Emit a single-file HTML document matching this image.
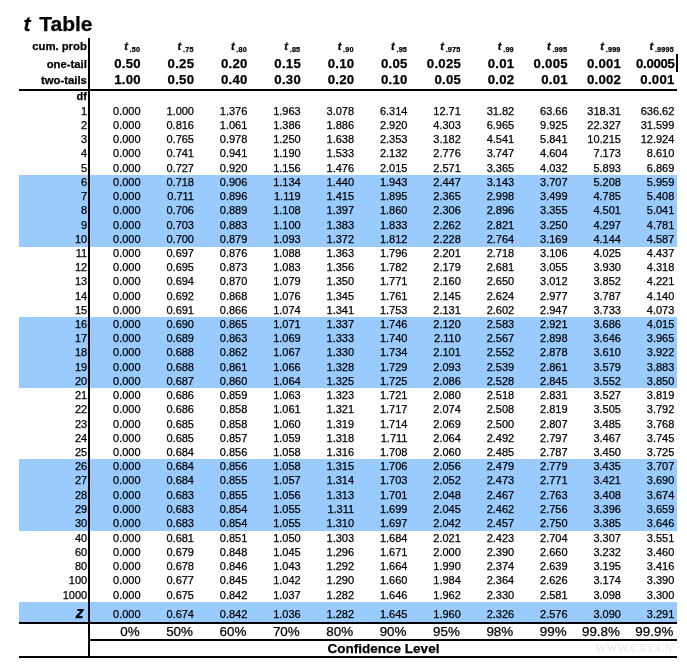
<!DOCTYPE html>
<html><head><meta charset="utf-8"><style>
html,body{margin:0;padding:0;background:#fff;width:687px;height:668px;overflow:hidden;position:relative}
.t{position:absolute;white-space:nowrap;font-family:"Liberation Sans",sans-serif;-webkit-text-stroke:0.25px #000}
.r{position:absolute}
body{will-change:transform}
.sub{font-size:7.2px;margin-left:1.8px;position:relative;top:2.2px;font-weight:bold;letter-spacing:0.2px}
</style></head><body>
<div class="r" style="left:19px;top:175px;width:658px;height:72px;background:#9ACBFE"></div>
<div class="r" style="left:19px;top:317px;width:658px;height:71px;background:#9ACBFE"></div>
<div class="r" style="left:19px;top:459px;width:658px;height:72px;background:#9ACBFE"></div>
<div class="r" style="left:19px;top:602px;width:658px;height:20px;background:#9ACBFE"></div>
<div class="r" style="left:88px;top:38px;width:2px;height:619.5px;background:#000"></div>
<div class="r" style="left:19px;top:89px;width:658px;height:2px;background:#000"></div>
<div class="r" style="left:19px;top:621.6px;width:658px;height:2.0px;background:#000"></div>
<div class="r" style="left:90px;top:639.4px;width:587px;height:2.0px;background:#000"></div>
<div class="r" style="left:19px;top:655.8px;width:658px;height:2.0px;background:#000"></div>
<div class="r" style="left:676px;top:54px;width:2px;height:17.5px;background:#000"></div>
<div class="t" style="left:23.60px;top:13.12px;font-size:21px;line-height:21px;font-weight:bold;font-style:normal;color:#000;"><i>t</i><span style="margin-left:8.6px">Table</span></div>
<div class="t" style="right:600.20px;top:40.63px;font-size:11.3px;line-height:11.3px;font-weight:bold;font-style:normal;color:#000;">cum. prob</div>
<div class="t" style="right:600.20px;top:58.63px;font-size:11.3px;line-height:11.3px;font-weight:bold;font-style:normal;color:#000;">one-tail</div>
<div class="t" style="right:600.20px;top:74.93px;font-size:11.3px;line-height:11.3px;font-weight:bold;font-style:normal;color:#000;">two-tails</div>
<div class="t" style="right:600.00px;top:91.29px;font-size:11px;line-height:11px;font-weight:bold;font-style:normal;color:#000;">df</div>
<div class="t" style="right:546.80px;top:40.89px;font-size:11px;line-height:11px;font-weight:bold;font-style:normal;color:#000;"><i>t</i><span class="sub">.50</span></div>
<div class="t" style="right:546.15px;top:56.83px;font-size:13.2px;line-height:13.2px;font-weight:bold;font-style:normal;color:#000;letter-spacing:0.25px;">0.50</div>
<div class="t" style="right:546.15px;top:73.13px;font-size:13.2px;line-height:13.2px;font-weight:bold;font-style:normal;color:#000;letter-spacing:0.25px;">1.00</div>
<div class="t" style="right:493.43px;top:40.89px;font-size:11px;line-height:11px;font-weight:bold;font-style:normal;color:#000;"><i>t</i><span class="sub">.75</span></div>
<div class="t" style="right:492.78px;top:56.83px;font-size:13.2px;line-height:13.2px;font-weight:bold;font-style:normal;color:#000;letter-spacing:0.25px;">0.25</div>
<div class="t" style="right:492.78px;top:73.13px;font-size:13.2px;line-height:13.2px;font-weight:bold;font-style:normal;color:#000;letter-spacing:0.25px;">0.50</div>
<div class="t" style="right:440.06px;top:40.89px;font-size:11px;line-height:11px;font-weight:bold;font-style:normal;color:#000;"><i>t</i><span class="sub">.80</span></div>
<div class="t" style="right:439.41px;top:56.83px;font-size:13.2px;line-height:13.2px;font-weight:bold;font-style:normal;color:#000;letter-spacing:0.25px;">0.20</div>
<div class="t" style="right:439.41px;top:73.13px;font-size:13.2px;line-height:13.2px;font-weight:bold;font-style:normal;color:#000;letter-spacing:0.25px;">0.40</div>
<div class="t" style="right:386.69px;top:40.89px;font-size:11px;line-height:11px;font-weight:bold;font-style:normal;color:#000;"><i>t</i><span class="sub">.85</span></div>
<div class="t" style="right:386.04px;top:56.83px;font-size:13.2px;line-height:13.2px;font-weight:bold;font-style:normal;color:#000;letter-spacing:0.25px;">0.15</div>
<div class="t" style="right:386.04px;top:73.13px;font-size:13.2px;line-height:13.2px;font-weight:bold;font-style:normal;color:#000;letter-spacing:0.25px;">0.30</div>
<div class="t" style="right:333.32px;top:40.89px;font-size:11px;line-height:11px;font-weight:bold;font-style:normal;color:#000;"><i>t</i><span class="sub">.90</span></div>
<div class="t" style="right:332.67px;top:56.83px;font-size:13.2px;line-height:13.2px;font-weight:bold;font-style:normal;color:#000;letter-spacing:0.25px;">0.10</div>
<div class="t" style="right:332.67px;top:73.13px;font-size:13.2px;line-height:13.2px;font-weight:bold;font-style:normal;color:#000;letter-spacing:0.25px;">0.20</div>
<div class="t" style="right:279.95px;top:40.89px;font-size:11px;line-height:11px;font-weight:bold;font-style:normal;color:#000;"><i>t</i><span class="sub">.95</span></div>
<div class="t" style="right:279.30px;top:56.83px;font-size:13.2px;line-height:13.2px;font-weight:bold;font-style:normal;color:#000;letter-spacing:0.25px;">0.05</div>
<div class="t" style="right:279.30px;top:73.13px;font-size:13.2px;line-height:13.2px;font-weight:bold;font-style:normal;color:#000;letter-spacing:0.25px;">0.10</div>
<div class="t" style="right:226.58px;top:40.89px;font-size:11px;line-height:11px;font-weight:bold;font-style:normal;color:#000;"><i>t</i><span class="sub">.975</span></div>
<div class="t" style="right:225.93px;top:56.83px;font-size:13.2px;line-height:13.2px;font-weight:bold;font-style:normal;color:#000;letter-spacing:0.25px;">0.025</div>
<div class="t" style="right:225.93px;top:73.13px;font-size:13.2px;line-height:13.2px;font-weight:bold;font-style:normal;color:#000;letter-spacing:0.25px;">0.05</div>
<div class="t" style="right:173.21px;top:40.89px;font-size:11px;line-height:11px;font-weight:bold;font-style:normal;color:#000;"><i>t</i><span class="sub">.99</span></div>
<div class="t" style="right:172.56px;top:56.83px;font-size:13.2px;line-height:13.2px;font-weight:bold;font-style:normal;color:#000;letter-spacing:0.25px;">0.01</div>
<div class="t" style="right:172.56px;top:73.13px;font-size:13.2px;line-height:13.2px;font-weight:bold;font-style:normal;color:#000;letter-spacing:0.25px;">0.02</div>
<div class="t" style="right:119.84px;top:40.89px;font-size:11px;line-height:11px;font-weight:bold;font-style:normal;color:#000;"><i>t</i><span class="sub">.995</span></div>
<div class="t" style="right:119.19px;top:56.83px;font-size:13.2px;line-height:13.2px;font-weight:bold;font-style:normal;color:#000;letter-spacing:0.25px;">0.005</div>
<div class="t" style="right:119.19px;top:73.13px;font-size:13.2px;line-height:13.2px;font-weight:bold;font-style:normal;color:#000;letter-spacing:0.25px;">0.01</div>
<div class="t" style="right:66.47px;top:40.89px;font-size:11px;line-height:11px;font-weight:bold;font-style:normal;color:#000;"><i>t</i><span class="sub">.999</span></div>
<div class="t" style="right:65.82px;top:56.83px;font-size:13.2px;line-height:13.2px;font-weight:bold;font-style:normal;color:#000;letter-spacing:0.25px;">0.001</div>
<div class="t" style="right:65.82px;top:73.13px;font-size:13.2px;line-height:13.2px;font-weight:bold;font-style:normal;color:#000;letter-spacing:0.25px;">0.002</div>
<div class="t" style="right:13.10px;top:40.89px;font-size:11px;line-height:11px;font-weight:bold;font-style:normal;color:#000;"><i>t</i><span class="sub">.9995</span></div>
<div class="t" style="right:12.45px;top:56.83px;font-size:13.2px;line-height:13.2px;font-weight:bold;font-style:normal;color:#000;letter-spacing:-0.3px;">0.0005</div>
<div class="t" style="right:12.45px;top:73.13px;font-size:13.2px;line-height:13.2px;font-weight:bold;font-style:normal;color:#000;letter-spacing:0.25px;">0.001</div>
<div class="t" style="right:599.80px;top:105.74px;font-size:11px;line-height:11px;font-weight:normal;font-style:normal;color:#000;">1</div>
<div class="t" style="right:546.40px;top:105.74px;font-size:11px;line-height:11px;font-weight:normal;font-style:normal;color:#000;">0.000</div>
<div class="t" style="right:493.03px;top:105.74px;font-size:11px;line-height:11px;font-weight:normal;font-style:normal;color:#000;">1.000</div>
<div class="t" style="right:439.66px;top:105.74px;font-size:11px;line-height:11px;font-weight:normal;font-style:normal;color:#000;">1.376</div>
<div class="t" style="right:386.29px;top:105.74px;font-size:11px;line-height:11px;font-weight:normal;font-style:normal;color:#000;">1.963</div>
<div class="t" style="right:332.92px;top:105.74px;font-size:11px;line-height:11px;font-weight:normal;font-style:normal;color:#000;">3.078</div>
<div class="t" style="right:279.55px;top:105.74px;font-size:11px;line-height:11px;font-weight:normal;font-style:normal;color:#000;">6.314</div>
<div class="t" style="right:226.18px;top:105.74px;font-size:11px;line-height:11px;font-weight:normal;font-style:normal;color:#000;">12.71</div>
<div class="t" style="right:172.81px;top:105.74px;font-size:11px;line-height:11px;font-weight:normal;font-style:normal;color:#000;">31.82</div>
<div class="t" style="right:119.44px;top:105.74px;font-size:11px;line-height:11px;font-weight:normal;font-style:normal;color:#000;">63.66</div>
<div class="t" style="right:66.07px;top:105.74px;font-size:11px;line-height:11px;font-weight:normal;font-style:normal;color:#000;">318.31</div>
<div class="t" style="right:12.70px;top:105.74px;font-size:11px;line-height:11px;font-weight:normal;font-style:normal;color:#000;">636.62</div>
<div class="t" style="right:599.80px;top:119.96px;font-size:11px;line-height:11px;font-weight:normal;font-style:normal;color:#000;">2</div>
<div class="t" style="right:546.40px;top:119.96px;font-size:11px;line-height:11px;font-weight:normal;font-style:normal;color:#000;">0.000</div>
<div class="t" style="right:493.03px;top:119.96px;font-size:11px;line-height:11px;font-weight:normal;font-style:normal;color:#000;">0.816</div>
<div class="t" style="right:439.66px;top:119.96px;font-size:11px;line-height:11px;font-weight:normal;font-style:normal;color:#000;">1.061</div>
<div class="t" style="right:386.29px;top:119.96px;font-size:11px;line-height:11px;font-weight:normal;font-style:normal;color:#000;">1.386</div>
<div class="t" style="right:332.92px;top:119.96px;font-size:11px;line-height:11px;font-weight:normal;font-style:normal;color:#000;">1.886</div>
<div class="t" style="right:279.55px;top:119.96px;font-size:11px;line-height:11px;font-weight:normal;font-style:normal;color:#000;">2.920</div>
<div class="t" style="right:226.18px;top:119.96px;font-size:11px;line-height:11px;font-weight:normal;font-style:normal;color:#000;">4.303</div>
<div class="t" style="right:172.81px;top:119.96px;font-size:11px;line-height:11px;font-weight:normal;font-style:normal;color:#000;">6.965</div>
<div class="t" style="right:119.44px;top:119.96px;font-size:11px;line-height:11px;font-weight:normal;font-style:normal;color:#000;">9.925</div>
<div class="t" style="right:66.07px;top:119.96px;font-size:11px;line-height:11px;font-weight:normal;font-style:normal;color:#000;">22.327</div>
<div class="t" style="right:12.70px;top:119.96px;font-size:11px;line-height:11px;font-weight:normal;font-style:normal;color:#000;">31.599</div>
<div class="t" style="right:599.80px;top:134.18px;font-size:11px;line-height:11px;font-weight:normal;font-style:normal;color:#000;">3</div>
<div class="t" style="right:546.40px;top:134.18px;font-size:11px;line-height:11px;font-weight:normal;font-style:normal;color:#000;">0.000</div>
<div class="t" style="right:493.03px;top:134.18px;font-size:11px;line-height:11px;font-weight:normal;font-style:normal;color:#000;">0.765</div>
<div class="t" style="right:439.66px;top:134.18px;font-size:11px;line-height:11px;font-weight:normal;font-style:normal;color:#000;">0.978</div>
<div class="t" style="right:386.29px;top:134.18px;font-size:11px;line-height:11px;font-weight:normal;font-style:normal;color:#000;">1.250</div>
<div class="t" style="right:332.92px;top:134.18px;font-size:11px;line-height:11px;font-weight:normal;font-style:normal;color:#000;">1.638</div>
<div class="t" style="right:279.55px;top:134.18px;font-size:11px;line-height:11px;font-weight:normal;font-style:normal;color:#000;">2.353</div>
<div class="t" style="right:226.18px;top:134.18px;font-size:11px;line-height:11px;font-weight:normal;font-style:normal;color:#000;">3.182</div>
<div class="t" style="right:172.81px;top:134.18px;font-size:11px;line-height:11px;font-weight:normal;font-style:normal;color:#000;">4.541</div>
<div class="t" style="right:119.44px;top:134.18px;font-size:11px;line-height:11px;font-weight:normal;font-style:normal;color:#000;">5.841</div>
<div class="t" style="right:66.07px;top:134.18px;font-size:11px;line-height:11px;font-weight:normal;font-style:normal;color:#000;">10.215</div>
<div class="t" style="right:12.70px;top:134.18px;font-size:11px;line-height:11px;font-weight:normal;font-style:normal;color:#000;">12.924</div>
<div class="t" style="right:599.80px;top:148.40px;font-size:11px;line-height:11px;font-weight:normal;font-style:normal;color:#000;">4</div>
<div class="t" style="right:546.40px;top:148.40px;font-size:11px;line-height:11px;font-weight:normal;font-style:normal;color:#000;">0.000</div>
<div class="t" style="right:493.03px;top:148.40px;font-size:11px;line-height:11px;font-weight:normal;font-style:normal;color:#000;">0.741</div>
<div class="t" style="right:439.66px;top:148.40px;font-size:11px;line-height:11px;font-weight:normal;font-style:normal;color:#000;">0.941</div>
<div class="t" style="right:386.29px;top:148.40px;font-size:11px;line-height:11px;font-weight:normal;font-style:normal;color:#000;">1.190</div>
<div class="t" style="right:332.92px;top:148.40px;font-size:11px;line-height:11px;font-weight:normal;font-style:normal;color:#000;">1.533</div>
<div class="t" style="right:279.55px;top:148.40px;font-size:11px;line-height:11px;font-weight:normal;font-style:normal;color:#000;">2.132</div>
<div class="t" style="right:226.18px;top:148.40px;font-size:11px;line-height:11px;font-weight:normal;font-style:normal;color:#000;">2.776</div>
<div class="t" style="right:172.81px;top:148.40px;font-size:11px;line-height:11px;font-weight:normal;font-style:normal;color:#000;">3.747</div>
<div class="t" style="right:119.44px;top:148.40px;font-size:11px;line-height:11px;font-weight:normal;font-style:normal;color:#000;">4.604</div>
<div class="t" style="right:66.07px;top:148.40px;font-size:11px;line-height:11px;font-weight:normal;font-style:normal;color:#000;">7.173</div>
<div class="t" style="right:12.70px;top:148.40px;font-size:11px;line-height:11px;font-weight:normal;font-style:normal;color:#000;">8.610</div>
<div class="t" style="right:599.80px;top:162.62px;font-size:11px;line-height:11px;font-weight:normal;font-style:normal;color:#000;">5</div>
<div class="t" style="right:546.40px;top:162.62px;font-size:11px;line-height:11px;font-weight:normal;font-style:normal;color:#000;">0.000</div>
<div class="t" style="right:493.03px;top:162.62px;font-size:11px;line-height:11px;font-weight:normal;font-style:normal;color:#000;">0.727</div>
<div class="t" style="right:439.66px;top:162.62px;font-size:11px;line-height:11px;font-weight:normal;font-style:normal;color:#000;">0.920</div>
<div class="t" style="right:386.29px;top:162.62px;font-size:11px;line-height:11px;font-weight:normal;font-style:normal;color:#000;">1.156</div>
<div class="t" style="right:332.92px;top:162.62px;font-size:11px;line-height:11px;font-weight:normal;font-style:normal;color:#000;">1.476</div>
<div class="t" style="right:279.55px;top:162.62px;font-size:11px;line-height:11px;font-weight:normal;font-style:normal;color:#000;">2.015</div>
<div class="t" style="right:226.18px;top:162.62px;font-size:11px;line-height:11px;font-weight:normal;font-style:normal;color:#000;">2.571</div>
<div class="t" style="right:172.81px;top:162.62px;font-size:11px;line-height:11px;font-weight:normal;font-style:normal;color:#000;">3.365</div>
<div class="t" style="right:119.44px;top:162.62px;font-size:11px;line-height:11px;font-weight:normal;font-style:normal;color:#000;">4.032</div>
<div class="t" style="right:66.07px;top:162.62px;font-size:11px;line-height:11px;font-weight:normal;font-style:normal;color:#000;">5.893</div>
<div class="t" style="right:12.70px;top:162.62px;font-size:11px;line-height:11px;font-weight:normal;font-style:normal;color:#000;">6.869</div>
<div class="t" style="right:599.80px;top:176.84px;font-size:11px;line-height:11px;font-weight:normal;font-style:normal;color:#000;">6</div>
<div class="t" style="right:546.40px;top:176.84px;font-size:11px;line-height:11px;font-weight:normal;font-style:normal;color:#000;">0.000</div>
<div class="t" style="right:493.03px;top:176.84px;font-size:11px;line-height:11px;font-weight:normal;font-style:normal;color:#000;">0.718</div>
<div class="t" style="right:439.66px;top:176.84px;font-size:11px;line-height:11px;font-weight:normal;font-style:normal;color:#000;">0.906</div>
<div class="t" style="right:386.29px;top:176.84px;font-size:11px;line-height:11px;font-weight:normal;font-style:normal;color:#000;">1.134</div>
<div class="t" style="right:332.92px;top:176.84px;font-size:11px;line-height:11px;font-weight:normal;font-style:normal;color:#000;">1.440</div>
<div class="t" style="right:279.55px;top:176.84px;font-size:11px;line-height:11px;font-weight:normal;font-style:normal;color:#000;">1.943</div>
<div class="t" style="right:226.18px;top:176.84px;font-size:11px;line-height:11px;font-weight:normal;font-style:normal;color:#000;">2.447</div>
<div class="t" style="right:172.81px;top:176.84px;font-size:11px;line-height:11px;font-weight:normal;font-style:normal;color:#000;">3.143</div>
<div class="t" style="right:119.44px;top:176.84px;font-size:11px;line-height:11px;font-weight:normal;font-style:normal;color:#000;">3.707</div>
<div class="t" style="right:66.07px;top:176.84px;font-size:11px;line-height:11px;font-weight:normal;font-style:normal;color:#000;">5.208</div>
<div class="t" style="right:12.70px;top:176.84px;font-size:11px;line-height:11px;font-weight:normal;font-style:normal;color:#000;">5.959</div>
<div class="t" style="right:599.80px;top:191.06px;font-size:11px;line-height:11px;font-weight:normal;font-style:normal;color:#000;">7</div>
<div class="t" style="right:546.40px;top:191.06px;font-size:11px;line-height:11px;font-weight:normal;font-style:normal;color:#000;">0.000</div>
<div class="t" style="right:493.03px;top:191.06px;font-size:11px;line-height:11px;font-weight:normal;font-style:normal;color:#000;">0.711</div>
<div class="t" style="right:439.66px;top:191.06px;font-size:11px;line-height:11px;font-weight:normal;font-style:normal;color:#000;">0.896</div>
<div class="t" style="right:386.29px;top:191.06px;font-size:11px;line-height:11px;font-weight:normal;font-style:normal;color:#000;">1.119</div>
<div class="t" style="right:332.92px;top:191.06px;font-size:11px;line-height:11px;font-weight:normal;font-style:normal;color:#000;">1.415</div>
<div class="t" style="right:279.55px;top:191.06px;font-size:11px;line-height:11px;font-weight:normal;font-style:normal;color:#000;">1.895</div>
<div class="t" style="right:226.18px;top:191.06px;font-size:11px;line-height:11px;font-weight:normal;font-style:normal;color:#000;">2.365</div>
<div class="t" style="right:172.81px;top:191.06px;font-size:11px;line-height:11px;font-weight:normal;font-style:normal;color:#000;">2.998</div>
<div class="t" style="right:119.44px;top:191.06px;font-size:11px;line-height:11px;font-weight:normal;font-style:normal;color:#000;">3.499</div>
<div class="t" style="right:66.07px;top:191.06px;font-size:11px;line-height:11px;font-weight:normal;font-style:normal;color:#000;">4.785</div>
<div class="t" style="right:12.70px;top:191.06px;font-size:11px;line-height:11px;font-weight:normal;font-style:normal;color:#000;">5.408</div>
<div class="t" style="right:599.80px;top:205.28px;font-size:11px;line-height:11px;font-weight:normal;font-style:normal;color:#000;">8</div>
<div class="t" style="right:546.40px;top:205.28px;font-size:11px;line-height:11px;font-weight:normal;font-style:normal;color:#000;">0.000</div>
<div class="t" style="right:493.03px;top:205.28px;font-size:11px;line-height:11px;font-weight:normal;font-style:normal;color:#000;">0.706</div>
<div class="t" style="right:439.66px;top:205.28px;font-size:11px;line-height:11px;font-weight:normal;font-style:normal;color:#000;">0.889</div>
<div class="t" style="right:386.29px;top:205.28px;font-size:11px;line-height:11px;font-weight:normal;font-style:normal;color:#000;">1.108</div>
<div class="t" style="right:332.92px;top:205.28px;font-size:11px;line-height:11px;font-weight:normal;font-style:normal;color:#000;">1.397</div>
<div class="t" style="right:279.55px;top:205.28px;font-size:11px;line-height:11px;font-weight:normal;font-style:normal;color:#000;">1.860</div>
<div class="t" style="right:226.18px;top:205.28px;font-size:11px;line-height:11px;font-weight:normal;font-style:normal;color:#000;">2.306</div>
<div class="t" style="right:172.81px;top:205.28px;font-size:11px;line-height:11px;font-weight:normal;font-style:normal;color:#000;">2.896</div>
<div class="t" style="right:119.44px;top:205.28px;font-size:11px;line-height:11px;font-weight:normal;font-style:normal;color:#000;">3.355</div>
<div class="t" style="right:66.07px;top:205.28px;font-size:11px;line-height:11px;font-weight:normal;font-style:normal;color:#000;">4.501</div>
<div class="t" style="right:12.70px;top:205.28px;font-size:11px;line-height:11px;font-weight:normal;font-style:normal;color:#000;">5.041</div>
<div class="t" style="right:599.80px;top:219.50px;font-size:11px;line-height:11px;font-weight:normal;font-style:normal;color:#000;">9</div>
<div class="t" style="right:546.40px;top:219.50px;font-size:11px;line-height:11px;font-weight:normal;font-style:normal;color:#000;">0.000</div>
<div class="t" style="right:493.03px;top:219.50px;font-size:11px;line-height:11px;font-weight:normal;font-style:normal;color:#000;">0.703</div>
<div class="t" style="right:439.66px;top:219.50px;font-size:11px;line-height:11px;font-weight:normal;font-style:normal;color:#000;">0.883</div>
<div class="t" style="right:386.29px;top:219.50px;font-size:11px;line-height:11px;font-weight:normal;font-style:normal;color:#000;">1.100</div>
<div class="t" style="right:332.92px;top:219.50px;font-size:11px;line-height:11px;font-weight:normal;font-style:normal;color:#000;">1.383</div>
<div class="t" style="right:279.55px;top:219.50px;font-size:11px;line-height:11px;font-weight:normal;font-style:normal;color:#000;">1.833</div>
<div class="t" style="right:226.18px;top:219.50px;font-size:11px;line-height:11px;font-weight:normal;font-style:normal;color:#000;">2.262</div>
<div class="t" style="right:172.81px;top:219.50px;font-size:11px;line-height:11px;font-weight:normal;font-style:normal;color:#000;">2.821</div>
<div class="t" style="right:119.44px;top:219.50px;font-size:11px;line-height:11px;font-weight:normal;font-style:normal;color:#000;">3.250</div>
<div class="t" style="right:66.07px;top:219.50px;font-size:11px;line-height:11px;font-weight:normal;font-style:normal;color:#000;">4.297</div>
<div class="t" style="right:12.70px;top:219.50px;font-size:11px;line-height:11px;font-weight:normal;font-style:normal;color:#000;">4.781</div>
<div class="t" style="right:599.80px;top:233.72px;font-size:11px;line-height:11px;font-weight:normal;font-style:normal;color:#000;">10</div>
<div class="t" style="right:546.40px;top:233.72px;font-size:11px;line-height:11px;font-weight:normal;font-style:normal;color:#000;">0.000</div>
<div class="t" style="right:493.03px;top:233.72px;font-size:11px;line-height:11px;font-weight:normal;font-style:normal;color:#000;">0.700</div>
<div class="t" style="right:439.66px;top:233.72px;font-size:11px;line-height:11px;font-weight:normal;font-style:normal;color:#000;">0.879</div>
<div class="t" style="right:386.29px;top:233.72px;font-size:11px;line-height:11px;font-weight:normal;font-style:normal;color:#000;">1.093</div>
<div class="t" style="right:332.92px;top:233.72px;font-size:11px;line-height:11px;font-weight:normal;font-style:normal;color:#000;">1.372</div>
<div class="t" style="right:279.55px;top:233.72px;font-size:11px;line-height:11px;font-weight:normal;font-style:normal;color:#000;">1.812</div>
<div class="t" style="right:226.18px;top:233.72px;font-size:11px;line-height:11px;font-weight:normal;font-style:normal;color:#000;">2.228</div>
<div class="t" style="right:172.81px;top:233.72px;font-size:11px;line-height:11px;font-weight:normal;font-style:normal;color:#000;">2.764</div>
<div class="t" style="right:119.44px;top:233.72px;font-size:11px;line-height:11px;font-weight:normal;font-style:normal;color:#000;">3.169</div>
<div class="t" style="right:66.07px;top:233.72px;font-size:11px;line-height:11px;font-weight:normal;font-style:normal;color:#000;">4.144</div>
<div class="t" style="right:12.70px;top:233.72px;font-size:11px;line-height:11px;font-weight:normal;font-style:normal;color:#000;">4.587</div>
<div class="t" style="right:599.80px;top:247.94px;font-size:11px;line-height:11px;font-weight:normal;font-style:normal;color:#000;">11</div>
<div class="t" style="right:546.40px;top:247.94px;font-size:11px;line-height:11px;font-weight:normal;font-style:normal;color:#000;">0.000</div>
<div class="t" style="right:493.03px;top:247.94px;font-size:11px;line-height:11px;font-weight:normal;font-style:normal;color:#000;">0.697</div>
<div class="t" style="right:439.66px;top:247.94px;font-size:11px;line-height:11px;font-weight:normal;font-style:normal;color:#000;">0.876</div>
<div class="t" style="right:386.29px;top:247.94px;font-size:11px;line-height:11px;font-weight:normal;font-style:normal;color:#000;">1.088</div>
<div class="t" style="right:332.92px;top:247.94px;font-size:11px;line-height:11px;font-weight:normal;font-style:normal;color:#000;">1.363</div>
<div class="t" style="right:279.55px;top:247.94px;font-size:11px;line-height:11px;font-weight:normal;font-style:normal;color:#000;">1.796</div>
<div class="t" style="right:226.18px;top:247.94px;font-size:11px;line-height:11px;font-weight:normal;font-style:normal;color:#000;">2.201</div>
<div class="t" style="right:172.81px;top:247.94px;font-size:11px;line-height:11px;font-weight:normal;font-style:normal;color:#000;">2.718</div>
<div class="t" style="right:119.44px;top:247.94px;font-size:11px;line-height:11px;font-weight:normal;font-style:normal;color:#000;">3.106</div>
<div class="t" style="right:66.07px;top:247.94px;font-size:11px;line-height:11px;font-weight:normal;font-style:normal;color:#000;">4.025</div>
<div class="t" style="right:12.70px;top:247.94px;font-size:11px;line-height:11px;font-weight:normal;font-style:normal;color:#000;">4.437</div>
<div class="t" style="right:599.80px;top:262.16px;font-size:11px;line-height:11px;font-weight:normal;font-style:normal;color:#000;">12</div>
<div class="t" style="right:546.40px;top:262.16px;font-size:11px;line-height:11px;font-weight:normal;font-style:normal;color:#000;">0.000</div>
<div class="t" style="right:493.03px;top:262.16px;font-size:11px;line-height:11px;font-weight:normal;font-style:normal;color:#000;">0.695</div>
<div class="t" style="right:439.66px;top:262.16px;font-size:11px;line-height:11px;font-weight:normal;font-style:normal;color:#000;">0.873</div>
<div class="t" style="right:386.29px;top:262.16px;font-size:11px;line-height:11px;font-weight:normal;font-style:normal;color:#000;">1.083</div>
<div class="t" style="right:332.92px;top:262.16px;font-size:11px;line-height:11px;font-weight:normal;font-style:normal;color:#000;">1.356</div>
<div class="t" style="right:279.55px;top:262.16px;font-size:11px;line-height:11px;font-weight:normal;font-style:normal;color:#000;">1.782</div>
<div class="t" style="right:226.18px;top:262.16px;font-size:11px;line-height:11px;font-weight:normal;font-style:normal;color:#000;">2.179</div>
<div class="t" style="right:172.81px;top:262.16px;font-size:11px;line-height:11px;font-weight:normal;font-style:normal;color:#000;">2.681</div>
<div class="t" style="right:119.44px;top:262.16px;font-size:11px;line-height:11px;font-weight:normal;font-style:normal;color:#000;">3.055</div>
<div class="t" style="right:66.07px;top:262.16px;font-size:11px;line-height:11px;font-weight:normal;font-style:normal;color:#000;">3.930</div>
<div class="t" style="right:12.70px;top:262.16px;font-size:11px;line-height:11px;font-weight:normal;font-style:normal;color:#000;">4.318</div>
<div class="t" style="right:599.80px;top:276.38px;font-size:11px;line-height:11px;font-weight:normal;font-style:normal;color:#000;">13</div>
<div class="t" style="right:546.40px;top:276.38px;font-size:11px;line-height:11px;font-weight:normal;font-style:normal;color:#000;">0.000</div>
<div class="t" style="right:493.03px;top:276.38px;font-size:11px;line-height:11px;font-weight:normal;font-style:normal;color:#000;">0.694</div>
<div class="t" style="right:439.66px;top:276.38px;font-size:11px;line-height:11px;font-weight:normal;font-style:normal;color:#000;">0.870</div>
<div class="t" style="right:386.29px;top:276.38px;font-size:11px;line-height:11px;font-weight:normal;font-style:normal;color:#000;">1.079</div>
<div class="t" style="right:332.92px;top:276.38px;font-size:11px;line-height:11px;font-weight:normal;font-style:normal;color:#000;">1.350</div>
<div class="t" style="right:279.55px;top:276.38px;font-size:11px;line-height:11px;font-weight:normal;font-style:normal;color:#000;">1.771</div>
<div class="t" style="right:226.18px;top:276.38px;font-size:11px;line-height:11px;font-weight:normal;font-style:normal;color:#000;">2.160</div>
<div class="t" style="right:172.81px;top:276.38px;font-size:11px;line-height:11px;font-weight:normal;font-style:normal;color:#000;">2.650</div>
<div class="t" style="right:119.44px;top:276.38px;font-size:11px;line-height:11px;font-weight:normal;font-style:normal;color:#000;">3.012</div>
<div class="t" style="right:66.07px;top:276.38px;font-size:11px;line-height:11px;font-weight:normal;font-style:normal;color:#000;">3.852</div>
<div class="t" style="right:12.70px;top:276.38px;font-size:11px;line-height:11px;font-weight:normal;font-style:normal;color:#000;">4.221</div>
<div class="t" style="right:599.80px;top:290.60px;font-size:11px;line-height:11px;font-weight:normal;font-style:normal;color:#000;">14</div>
<div class="t" style="right:546.40px;top:290.60px;font-size:11px;line-height:11px;font-weight:normal;font-style:normal;color:#000;">0.000</div>
<div class="t" style="right:493.03px;top:290.60px;font-size:11px;line-height:11px;font-weight:normal;font-style:normal;color:#000;">0.692</div>
<div class="t" style="right:439.66px;top:290.60px;font-size:11px;line-height:11px;font-weight:normal;font-style:normal;color:#000;">0.868</div>
<div class="t" style="right:386.29px;top:290.60px;font-size:11px;line-height:11px;font-weight:normal;font-style:normal;color:#000;">1.076</div>
<div class="t" style="right:332.92px;top:290.60px;font-size:11px;line-height:11px;font-weight:normal;font-style:normal;color:#000;">1.345</div>
<div class="t" style="right:279.55px;top:290.60px;font-size:11px;line-height:11px;font-weight:normal;font-style:normal;color:#000;">1.761</div>
<div class="t" style="right:226.18px;top:290.60px;font-size:11px;line-height:11px;font-weight:normal;font-style:normal;color:#000;">2.145</div>
<div class="t" style="right:172.81px;top:290.60px;font-size:11px;line-height:11px;font-weight:normal;font-style:normal;color:#000;">2.624</div>
<div class="t" style="right:119.44px;top:290.60px;font-size:11px;line-height:11px;font-weight:normal;font-style:normal;color:#000;">2.977</div>
<div class="t" style="right:66.07px;top:290.60px;font-size:11px;line-height:11px;font-weight:normal;font-style:normal;color:#000;">3.787</div>
<div class="t" style="right:12.70px;top:290.60px;font-size:11px;line-height:11px;font-weight:normal;font-style:normal;color:#000;">4.140</div>
<div class="t" style="right:599.80px;top:304.82px;font-size:11px;line-height:11px;font-weight:normal;font-style:normal;color:#000;">15</div>
<div class="t" style="right:546.40px;top:304.82px;font-size:11px;line-height:11px;font-weight:normal;font-style:normal;color:#000;">0.000</div>
<div class="t" style="right:493.03px;top:304.82px;font-size:11px;line-height:11px;font-weight:normal;font-style:normal;color:#000;">0.691</div>
<div class="t" style="right:439.66px;top:304.82px;font-size:11px;line-height:11px;font-weight:normal;font-style:normal;color:#000;">0.866</div>
<div class="t" style="right:386.29px;top:304.82px;font-size:11px;line-height:11px;font-weight:normal;font-style:normal;color:#000;">1.074</div>
<div class="t" style="right:332.92px;top:304.82px;font-size:11px;line-height:11px;font-weight:normal;font-style:normal;color:#000;">1.341</div>
<div class="t" style="right:279.55px;top:304.82px;font-size:11px;line-height:11px;font-weight:normal;font-style:normal;color:#000;">1.753</div>
<div class="t" style="right:226.18px;top:304.82px;font-size:11px;line-height:11px;font-weight:normal;font-style:normal;color:#000;">2.131</div>
<div class="t" style="right:172.81px;top:304.82px;font-size:11px;line-height:11px;font-weight:normal;font-style:normal;color:#000;">2.602</div>
<div class="t" style="right:119.44px;top:304.82px;font-size:11px;line-height:11px;font-weight:normal;font-style:normal;color:#000;">2.947</div>
<div class="t" style="right:66.07px;top:304.82px;font-size:11px;line-height:11px;font-weight:normal;font-style:normal;color:#000;">3.733</div>
<div class="t" style="right:12.70px;top:304.82px;font-size:11px;line-height:11px;font-weight:normal;font-style:normal;color:#000;">4.073</div>
<div class="t" style="right:599.80px;top:319.04px;font-size:11px;line-height:11px;font-weight:normal;font-style:normal;color:#000;">16</div>
<div class="t" style="right:546.40px;top:319.04px;font-size:11px;line-height:11px;font-weight:normal;font-style:normal;color:#000;">0.000</div>
<div class="t" style="right:493.03px;top:319.04px;font-size:11px;line-height:11px;font-weight:normal;font-style:normal;color:#000;">0.690</div>
<div class="t" style="right:439.66px;top:319.04px;font-size:11px;line-height:11px;font-weight:normal;font-style:normal;color:#000;">0.865</div>
<div class="t" style="right:386.29px;top:319.04px;font-size:11px;line-height:11px;font-weight:normal;font-style:normal;color:#000;">1.071</div>
<div class="t" style="right:332.92px;top:319.04px;font-size:11px;line-height:11px;font-weight:normal;font-style:normal;color:#000;">1.337</div>
<div class="t" style="right:279.55px;top:319.04px;font-size:11px;line-height:11px;font-weight:normal;font-style:normal;color:#000;">1.746</div>
<div class="t" style="right:226.18px;top:319.04px;font-size:11px;line-height:11px;font-weight:normal;font-style:normal;color:#000;">2.120</div>
<div class="t" style="right:172.81px;top:319.04px;font-size:11px;line-height:11px;font-weight:normal;font-style:normal;color:#000;">2.583</div>
<div class="t" style="right:119.44px;top:319.04px;font-size:11px;line-height:11px;font-weight:normal;font-style:normal;color:#000;">2.921</div>
<div class="t" style="right:66.07px;top:319.04px;font-size:11px;line-height:11px;font-weight:normal;font-style:normal;color:#000;">3.686</div>
<div class="t" style="right:12.70px;top:319.04px;font-size:11px;line-height:11px;font-weight:normal;font-style:normal;color:#000;">4.015</div>
<div class="t" style="right:599.80px;top:333.26px;font-size:11px;line-height:11px;font-weight:normal;font-style:normal;color:#000;">17</div>
<div class="t" style="right:546.40px;top:333.26px;font-size:11px;line-height:11px;font-weight:normal;font-style:normal;color:#000;">0.000</div>
<div class="t" style="right:493.03px;top:333.26px;font-size:11px;line-height:11px;font-weight:normal;font-style:normal;color:#000;">0.689</div>
<div class="t" style="right:439.66px;top:333.26px;font-size:11px;line-height:11px;font-weight:normal;font-style:normal;color:#000;">0.863</div>
<div class="t" style="right:386.29px;top:333.26px;font-size:11px;line-height:11px;font-weight:normal;font-style:normal;color:#000;">1.069</div>
<div class="t" style="right:332.92px;top:333.26px;font-size:11px;line-height:11px;font-weight:normal;font-style:normal;color:#000;">1.333</div>
<div class="t" style="right:279.55px;top:333.26px;font-size:11px;line-height:11px;font-weight:normal;font-style:normal;color:#000;">1.740</div>
<div class="t" style="right:226.18px;top:333.26px;font-size:11px;line-height:11px;font-weight:normal;font-style:normal;color:#000;">2.110</div>
<div class="t" style="right:172.81px;top:333.26px;font-size:11px;line-height:11px;font-weight:normal;font-style:normal;color:#000;">2.567</div>
<div class="t" style="right:119.44px;top:333.26px;font-size:11px;line-height:11px;font-weight:normal;font-style:normal;color:#000;">2.898</div>
<div class="t" style="right:66.07px;top:333.26px;font-size:11px;line-height:11px;font-weight:normal;font-style:normal;color:#000;">3.646</div>
<div class="t" style="right:12.70px;top:333.26px;font-size:11px;line-height:11px;font-weight:normal;font-style:normal;color:#000;">3.965</div>
<div class="t" style="right:599.80px;top:347.48px;font-size:11px;line-height:11px;font-weight:normal;font-style:normal;color:#000;">18</div>
<div class="t" style="right:546.40px;top:347.48px;font-size:11px;line-height:11px;font-weight:normal;font-style:normal;color:#000;">0.000</div>
<div class="t" style="right:493.03px;top:347.48px;font-size:11px;line-height:11px;font-weight:normal;font-style:normal;color:#000;">0.688</div>
<div class="t" style="right:439.66px;top:347.48px;font-size:11px;line-height:11px;font-weight:normal;font-style:normal;color:#000;">0.862</div>
<div class="t" style="right:386.29px;top:347.48px;font-size:11px;line-height:11px;font-weight:normal;font-style:normal;color:#000;">1.067</div>
<div class="t" style="right:332.92px;top:347.48px;font-size:11px;line-height:11px;font-weight:normal;font-style:normal;color:#000;">1.330</div>
<div class="t" style="right:279.55px;top:347.48px;font-size:11px;line-height:11px;font-weight:normal;font-style:normal;color:#000;">1.734</div>
<div class="t" style="right:226.18px;top:347.48px;font-size:11px;line-height:11px;font-weight:normal;font-style:normal;color:#000;">2.101</div>
<div class="t" style="right:172.81px;top:347.48px;font-size:11px;line-height:11px;font-weight:normal;font-style:normal;color:#000;">2.552</div>
<div class="t" style="right:119.44px;top:347.48px;font-size:11px;line-height:11px;font-weight:normal;font-style:normal;color:#000;">2.878</div>
<div class="t" style="right:66.07px;top:347.48px;font-size:11px;line-height:11px;font-weight:normal;font-style:normal;color:#000;">3.610</div>
<div class="t" style="right:12.70px;top:347.48px;font-size:11px;line-height:11px;font-weight:normal;font-style:normal;color:#000;">3.922</div>
<div class="t" style="right:599.80px;top:361.70px;font-size:11px;line-height:11px;font-weight:normal;font-style:normal;color:#000;">19</div>
<div class="t" style="right:546.40px;top:361.70px;font-size:11px;line-height:11px;font-weight:normal;font-style:normal;color:#000;">0.000</div>
<div class="t" style="right:493.03px;top:361.70px;font-size:11px;line-height:11px;font-weight:normal;font-style:normal;color:#000;">0.688</div>
<div class="t" style="right:439.66px;top:361.70px;font-size:11px;line-height:11px;font-weight:normal;font-style:normal;color:#000;">0.861</div>
<div class="t" style="right:386.29px;top:361.70px;font-size:11px;line-height:11px;font-weight:normal;font-style:normal;color:#000;">1.066</div>
<div class="t" style="right:332.92px;top:361.70px;font-size:11px;line-height:11px;font-weight:normal;font-style:normal;color:#000;">1.328</div>
<div class="t" style="right:279.55px;top:361.70px;font-size:11px;line-height:11px;font-weight:normal;font-style:normal;color:#000;">1.729</div>
<div class="t" style="right:226.18px;top:361.70px;font-size:11px;line-height:11px;font-weight:normal;font-style:normal;color:#000;">2.093</div>
<div class="t" style="right:172.81px;top:361.70px;font-size:11px;line-height:11px;font-weight:normal;font-style:normal;color:#000;">2.539</div>
<div class="t" style="right:119.44px;top:361.70px;font-size:11px;line-height:11px;font-weight:normal;font-style:normal;color:#000;">2.861</div>
<div class="t" style="right:66.07px;top:361.70px;font-size:11px;line-height:11px;font-weight:normal;font-style:normal;color:#000;">3.579</div>
<div class="t" style="right:12.70px;top:361.70px;font-size:11px;line-height:11px;font-weight:normal;font-style:normal;color:#000;">3.883</div>
<div class="t" style="right:599.80px;top:375.92px;font-size:11px;line-height:11px;font-weight:normal;font-style:normal;color:#000;">20</div>
<div class="t" style="right:546.40px;top:375.92px;font-size:11px;line-height:11px;font-weight:normal;font-style:normal;color:#000;">0.000</div>
<div class="t" style="right:493.03px;top:375.92px;font-size:11px;line-height:11px;font-weight:normal;font-style:normal;color:#000;">0.687</div>
<div class="t" style="right:439.66px;top:375.92px;font-size:11px;line-height:11px;font-weight:normal;font-style:normal;color:#000;">0.860</div>
<div class="t" style="right:386.29px;top:375.92px;font-size:11px;line-height:11px;font-weight:normal;font-style:normal;color:#000;">1.064</div>
<div class="t" style="right:332.92px;top:375.92px;font-size:11px;line-height:11px;font-weight:normal;font-style:normal;color:#000;">1.325</div>
<div class="t" style="right:279.55px;top:375.92px;font-size:11px;line-height:11px;font-weight:normal;font-style:normal;color:#000;">1.725</div>
<div class="t" style="right:226.18px;top:375.92px;font-size:11px;line-height:11px;font-weight:normal;font-style:normal;color:#000;">2.086</div>
<div class="t" style="right:172.81px;top:375.92px;font-size:11px;line-height:11px;font-weight:normal;font-style:normal;color:#000;">2.528</div>
<div class="t" style="right:119.44px;top:375.92px;font-size:11px;line-height:11px;font-weight:normal;font-style:normal;color:#000;">2.845</div>
<div class="t" style="right:66.07px;top:375.92px;font-size:11px;line-height:11px;font-weight:normal;font-style:normal;color:#000;">3.552</div>
<div class="t" style="right:12.70px;top:375.92px;font-size:11px;line-height:11px;font-weight:normal;font-style:normal;color:#000;">3.850</div>
<div class="t" style="right:599.80px;top:390.14px;font-size:11px;line-height:11px;font-weight:normal;font-style:normal;color:#000;">21</div>
<div class="t" style="right:546.40px;top:390.14px;font-size:11px;line-height:11px;font-weight:normal;font-style:normal;color:#000;">0.000</div>
<div class="t" style="right:493.03px;top:390.14px;font-size:11px;line-height:11px;font-weight:normal;font-style:normal;color:#000;">0.686</div>
<div class="t" style="right:439.66px;top:390.14px;font-size:11px;line-height:11px;font-weight:normal;font-style:normal;color:#000;">0.859</div>
<div class="t" style="right:386.29px;top:390.14px;font-size:11px;line-height:11px;font-weight:normal;font-style:normal;color:#000;">1.063</div>
<div class="t" style="right:332.92px;top:390.14px;font-size:11px;line-height:11px;font-weight:normal;font-style:normal;color:#000;">1.323</div>
<div class="t" style="right:279.55px;top:390.14px;font-size:11px;line-height:11px;font-weight:normal;font-style:normal;color:#000;">1.721</div>
<div class="t" style="right:226.18px;top:390.14px;font-size:11px;line-height:11px;font-weight:normal;font-style:normal;color:#000;">2.080</div>
<div class="t" style="right:172.81px;top:390.14px;font-size:11px;line-height:11px;font-weight:normal;font-style:normal;color:#000;">2.518</div>
<div class="t" style="right:119.44px;top:390.14px;font-size:11px;line-height:11px;font-weight:normal;font-style:normal;color:#000;">2.831</div>
<div class="t" style="right:66.07px;top:390.14px;font-size:11px;line-height:11px;font-weight:normal;font-style:normal;color:#000;">3.527</div>
<div class="t" style="right:12.70px;top:390.14px;font-size:11px;line-height:11px;font-weight:normal;font-style:normal;color:#000;">3.819</div>
<div class="t" style="right:599.80px;top:404.36px;font-size:11px;line-height:11px;font-weight:normal;font-style:normal;color:#000;">22</div>
<div class="t" style="right:546.40px;top:404.36px;font-size:11px;line-height:11px;font-weight:normal;font-style:normal;color:#000;">0.000</div>
<div class="t" style="right:493.03px;top:404.36px;font-size:11px;line-height:11px;font-weight:normal;font-style:normal;color:#000;">0.686</div>
<div class="t" style="right:439.66px;top:404.36px;font-size:11px;line-height:11px;font-weight:normal;font-style:normal;color:#000;">0.858</div>
<div class="t" style="right:386.29px;top:404.36px;font-size:11px;line-height:11px;font-weight:normal;font-style:normal;color:#000;">1.061</div>
<div class="t" style="right:332.92px;top:404.36px;font-size:11px;line-height:11px;font-weight:normal;font-style:normal;color:#000;">1.321</div>
<div class="t" style="right:279.55px;top:404.36px;font-size:11px;line-height:11px;font-weight:normal;font-style:normal;color:#000;">1.717</div>
<div class="t" style="right:226.18px;top:404.36px;font-size:11px;line-height:11px;font-weight:normal;font-style:normal;color:#000;">2.074</div>
<div class="t" style="right:172.81px;top:404.36px;font-size:11px;line-height:11px;font-weight:normal;font-style:normal;color:#000;">2.508</div>
<div class="t" style="right:119.44px;top:404.36px;font-size:11px;line-height:11px;font-weight:normal;font-style:normal;color:#000;">2.819</div>
<div class="t" style="right:66.07px;top:404.36px;font-size:11px;line-height:11px;font-weight:normal;font-style:normal;color:#000;">3.505</div>
<div class="t" style="right:12.70px;top:404.36px;font-size:11px;line-height:11px;font-weight:normal;font-style:normal;color:#000;">3.792</div>
<div class="t" style="right:599.80px;top:418.58px;font-size:11px;line-height:11px;font-weight:normal;font-style:normal;color:#000;">23</div>
<div class="t" style="right:546.40px;top:418.58px;font-size:11px;line-height:11px;font-weight:normal;font-style:normal;color:#000;">0.000</div>
<div class="t" style="right:493.03px;top:418.58px;font-size:11px;line-height:11px;font-weight:normal;font-style:normal;color:#000;">0.685</div>
<div class="t" style="right:439.66px;top:418.58px;font-size:11px;line-height:11px;font-weight:normal;font-style:normal;color:#000;">0.858</div>
<div class="t" style="right:386.29px;top:418.58px;font-size:11px;line-height:11px;font-weight:normal;font-style:normal;color:#000;">1.060</div>
<div class="t" style="right:332.92px;top:418.58px;font-size:11px;line-height:11px;font-weight:normal;font-style:normal;color:#000;">1.319</div>
<div class="t" style="right:279.55px;top:418.58px;font-size:11px;line-height:11px;font-weight:normal;font-style:normal;color:#000;">1.714</div>
<div class="t" style="right:226.18px;top:418.58px;font-size:11px;line-height:11px;font-weight:normal;font-style:normal;color:#000;">2.069</div>
<div class="t" style="right:172.81px;top:418.58px;font-size:11px;line-height:11px;font-weight:normal;font-style:normal;color:#000;">2.500</div>
<div class="t" style="right:119.44px;top:418.58px;font-size:11px;line-height:11px;font-weight:normal;font-style:normal;color:#000;">2.807</div>
<div class="t" style="right:66.07px;top:418.58px;font-size:11px;line-height:11px;font-weight:normal;font-style:normal;color:#000;">3.485</div>
<div class="t" style="right:12.70px;top:418.58px;font-size:11px;line-height:11px;font-weight:normal;font-style:normal;color:#000;">3.768</div>
<div class="t" style="right:599.80px;top:432.80px;font-size:11px;line-height:11px;font-weight:normal;font-style:normal;color:#000;">24</div>
<div class="t" style="right:546.40px;top:432.80px;font-size:11px;line-height:11px;font-weight:normal;font-style:normal;color:#000;">0.000</div>
<div class="t" style="right:493.03px;top:432.80px;font-size:11px;line-height:11px;font-weight:normal;font-style:normal;color:#000;">0.685</div>
<div class="t" style="right:439.66px;top:432.80px;font-size:11px;line-height:11px;font-weight:normal;font-style:normal;color:#000;">0.857</div>
<div class="t" style="right:386.29px;top:432.80px;font-size:11px;line-height:11px;font-weight:normal;font-style:normal;color:#000;">1.059</div>
<div class="t" style="right:332.92px;top:432.80px;font-size:11px;line-height:11px;font-weight:normal;font-style:normal;color:#000;">1.318</div>
<div class="t" style="right:279.55px;top:432.80px;font-size:11px;line-height:11px;font-weight:normal;font-style:normal;color:#000;">1.711</div>
<div class="t" style="right:226.18px;top:432.80px;font-size:11px;line-height:11px;font-weight:normal;font-style:normal;color:#000;">2.064</div>
<div class="t" style="right:172.81px;top:432.80px;font-size:11px;line-height:11px;font-weight:normal;font-style:normal;color:#000;">2.492</div>
<div class="t" style="right:119.44px;top:432.80px;font-size:11px;line-height:11px;font-weight:normal;font-style:normal;color:#000;">2.797</div>
<div class="t" style="right:66.07px;top:432.80px;font-size:11px;line-height:11px;font-weight:normal;font-style:normal;color:#000;">3.467</div>
<div class="t" style="right:12.70px;top:432.80px;font-size:11px;line-height:11px;font-weight:normal;font-style:normal;color:#000;">3.745</div>
<div class="t" style="right:599.80px;top:447.02px;font-size:11px;line-height:11px;font-weight:normal;font-style:normal;color:#000;">25</div>
<div class="t" style="right:546.40px;top:447.02px;font-size:11px;line-height:11px;font-weight:normal;font-style:normal;color:#000;">0.000</div>
<div class="t" style="right:493.03px;top:447.02px;font-size:11px;line-height:11px;font-weight:normal;font-style:normal;color:#000;">0.684</div>
<div class="t" style="right:439.66px;top:447.02px;font-size:11px;line-height:11px;font-weight:normal;font-style:normal;color:#000;">0.856</div>
<div class="t" style="right:386.29px;top:447.02px;font-size:11px;line-height:11px;font-weight:normal;font-style:normal;color:#000;">1.058</div>
<div class="t" style="right:332.92px;top:447.02px;font-size:11px;line-height:11px;font-weight:normal;font-style:normal;color:#000;">1.316</div>
<div class="t" style="right:279.55px;top:447.02px;font-size:11px;line-height:11px;font-weight:normal;font-style:normal;color:#000;">1.708</div>
<div class="t" style="right:226.18px;top:447.02px;font-size:11px;line-height:11px;font-weight:normal;font-style:normal;color:#000;">2.060</div>
<div class="t" style="right:172.81px;top:447.02px;font-size:11px;line-height:11px;font-weight:normal;font-style:normal;color:#000;">2.485</div>
<div class="t" style="right:119.44px;top:447.02px;font-size:11px;line-height:11px;font-weight:normal;font-style:normal;color:#000;">2.787</div>
<div class="t" style="right:66.07px;top:447.02px;font-size:11px;line-height:11px;font-weight:normal;font-style:normal;color:#000;">3.450</div>
<div class="t" style="right:12.70px;top:447.02px;font-size:11px;line-height:11px;font-weight:normal;font-style:normal;color:#000;">3.725</div>
<div class="t" style="right:599.80px;top:461.24px;font-size:11px;line-height:11px;font-weight:normal;font-style:normal;color:#000;">26</div>
<div class="t" style="right:546.40px;top:461.24px;font-size:11px;line-height:11px;font-weight:normal;font-style:normal;color:#000;">0.000</div>
<div class="t" style="right:493.03px;top:461.24px;font-size:11px;line-height:11px;font-weight:normal;font-style:normal;color:#000;">0.684</div>
<div class="t" style="right:439.66px;top:461.24px;font-size:11px;line-height:11px;font-weight:normal;font-style:normal;color:#000;">0.856</div>
<div class="t" style="right:386.29px;top:461.24px;font-size:11px;line-height:11px;font-weight:normal;font-style:normal;color:#000;">1.058</div>
<div class="t" style="right:332.92px;top:461.24px;font-size:11px;line-height:11px;font-weight:normal;font-style:normal;color:#000;">1.315</div>
<div class="t" style="right:279.55px;top:461.24px;font-size:11px;line-height:11px;font-weight:normal;font-style:normal;color:#000;">1.706</div>
<div class="t" style="right:226.18px;top:461.24px;font-size:11px;line-height:11px;font-weight:normal;font-style:normal;color:#000;">2.056</div>
<div class="t" style="right:172.81px;top:461.24px;font-size:11px;line-height:11px;font-weight:normal;font-style:normal;color:#000;">2.479</div>
<div class="t" style="right:119.44px;top:461.24px;font-size:11px;line-height:11px;font-weight:normal;font-style:normal;color:#000;">2.779</div>
<div class="t" style="right:66.07px;top:461.24px;font-size:11px;line-height:11px;font-weight:normal;font-style:normal;color:#000;">3.435</div>
<div class="t" style="right:12.70px;top:461.24px;font-size:11px;line-height:11px;font-weight:normal;font-style:normal;color:#000;">3.707</div>
<div class="t" style="right:599.80px;top:475.46px;font-size:11px;line-height:11px;font-weight:normal;font-style:normal;color:#000;">27</div>
<div class="t" style="right:546.40px;top:475.46px;font-size:11px;line-height:11px;font-weight:normal;font-style:normal;color:#000;">0.000</div>
<div class="t" style="right:493.03px;top:475.46px;font-size:11px;line-height:11px;font-weight:normal;font-style:normal;color:#000;">0.684</div>
<div class="t" style="right:439.66px;top:475.46px;font-size:11px;line-height:11px;font-weight:normal;font-style:normal;color:#000;">0.855</div>
<div class="t" style="right:386.29px;top:475.46px;font-size:11px;line-height:11px;font-weight:normal;font-style:normal;color:#000;">1.057</div>
<div class="t" style="right:332.92px;top:475.46px;font-size:11px;line-height:11px;font-weight:normal;font-style:normal;color:#000;">1.314</div>
<div class="t" style="right:279.55px;top:475.46px;font-size:11px;line-height:11px;font-weight:normal;font-style:normal;color:#000;">1.703</div>
<div class="t" style="right:226.18px;top:475.46px;font-size:11px;line-height:11px;font-weight:normal;font-style:normal;color:#000;">2.052</div>
<div class="t" style="right:172.81px;top:475.46px;font-size:11px;line-height:11px;font-weight:normal;font-style:normal;color:#000;">2.473</div>
<div class="t" style="right:119.44px;top:475.46px;font-size:11px;line-height:11px;font-weight:normal;font-style:normal;color:#000;">2.771</div>
<div class="t" style="right:66.07px;top:475.46px;font-size:11px;line-height:11px;font-weight:normal;font-style:normal;color:#000;">3.421</div>
<div class="t" style="right:12.70px;top:475.46px;font-size:11px;line-height:11px;font-weight:normal;font-style:normal;color:#000;">3.690</div>
<div class="t" style="right:599.80px;top:489.68px;font-size:11px;line-height:11px;font-weight:normal;font-style:normal;color:#000;">28</div>
<div class="t" style="right:546.40px;top:489.68px;font-size:11px;line-height:11px;font-weight:normal;font-style:normal;color:#000;">0.000</div>
<div class="t" style="right:493.03px;top:489.68px;font-size:11px;line-height:11px;font-weight:normal;font-style:normal;color:#000;">0.683</div>
<div class="t" style="right:439.66px;top:489.68px;font-size:11px;line-height:11px;font-weight:normal;font-style:normal;color:#000;">0.855</div>
<div class="t" style="right:386.29px;top:489.68px;font-size:11px;line-height:11px;font-weight:normal;font-style:normal;color:#000;">1.056</div>
<div class="t" style="right:332.92px;top:489.68px;font-size:11px;line-height:11px;font-weight:normal;font-style:normal;color:#000;">1.313</div>
<div class="t" style="right:279.55px;top:489.68px;font-size:11px;line-height:11px;font-weight:normal;font-style:normal;color:#000;">1.701</div>
<div class="t" style="right:226.18px;top:489.68px;font-size:11px;line-height:11px;font-weight:normal;font-style:normal;color:#000;">2.048</div>
<div class="t" style="right:172.81px;top:489.68px;font-size:11px;line-height:11px;font-weight:normal;font-style:normal;color:#000;">2.467</div>
<div class="t" style="right:119.44px;top:489.68px;font-size:11px;line-height:11px;font-weight:normal;font-style:normal;color:#000;">2.763</div>
<div class="t" style="right:66.07px;top:489.68px;font-size:11px;line-height:11px;font-weight:normal;font-style:normal;color:#000;">3.408</div>
<div class="t" style="right:12.70px;top:489.68px;font-size:11px;line-height:11px;font-weight:normal;font-style:normal;color:#000;">3.674</div>
<div class="t" style="right:599.80px;top:503.90px;font-size:11px;line-height:11px;font-weight:normal;font-style:normal;color:#000;">29</div>
<div class="t" style="right:546.40px;top:503.90px;font-size:11px;line-height:11px;font-weight:normal;font-style:normal;color:#000;">0.000</div>
<div class="t" style="right:493.03px;top:503.90px;font-size:11px;line-height:11px;font-weight:normal;font-style:normal;color:#000;">0.683</div>
<div class="t" style="right:439.66px;top:503.90px;font-size:11px;line-height:11px;font-weight:normal;font-style:normal;color:#000;">0.854</div>
<div class="t" style="right:386.29px;top:503.90px;font-size:11px;line-height:11px;font-weight:normal;font-style:normal;color:#000;">1.055</div>
<div class="t" style="right:332.92px;top:503.90px;font-size:11px;line-height:11px;font-weight:normal;font-style:normal;color:#000;">1.311</div>
<div class="t" style="right:279.55px;top:503.90px;font-size:11px;line-height:11px;font-weight:normal;font-style:normal;color:#000;">1.699</div>
<div class="t" style="right:226.18px;top:503.90px;font-size:11px;line-height:11px;font-weight:normal;font-style:normal;color:#000;">2.045</div>
<div class="t" style="right:172.81px;top:503.90px;font-size:11px;line-height:11px;font-weight:normal;font-style:normal;color:#000;">2.462</div>
<div class="t" style="right:119.44px;top:503.90px;font-size:11px;line-height:11px;font-weight:normal;font-style:normal;color:#000;">2.756</div>
<div class="t" style="right:66.07px;top:503.90px;font-size:11px;line-height:11px;font-weight:normal;font-style:normal;color:#000;">3.396</div>
<div class="t" style="right:12.70px;top:503.90px;font-size:11px;line-height:11px;font-weight:normal;font-style:normal;color:#000;">3.659</div>
<div class="t" style="right:599.80px;top:518.12px;font-size:11px;line-height:11px;font-weight:normal;font-style:normal;color:#000;">30</div>
<div class="t" style="right:546.40px;top:518.12px;font-size:11px;line-height:11px;font-weight:normal;font-style:normal;color:#000;">0.000</div>
<div class="t" style="right:493.03px;top:518.12px;font-size:11px;line-height:11px;font-weight:normal;font-style:normal;color:#000;">0.683</div>
<div class="t" style="right:439.66px;top:518.12px;font-size:11px;line-height:11px;font-weight:normal;font-style:normal;color:#000;">0.854</div>
<div class="t" style="right:386.29px;top:518.12px;font-size:11px;line-height:11px;font-weight:normal;font-style:normal;color:#000;">1.055</div>
<div class="t" style="right:332.92px;top:518.12px;font-size:11px;line-height:11px;font-weight:normal;font-style:normal;color:#000;">1.310</div>
<div class="t" style="right:279.55px;top:518.12px;font-size:11px;line-height:11px;font-weight:normal;font-style:normal;color:#000;">1.697</div>
<div class="t" style="right:226.18px;top:518.12px;font-size:11px;line-height:11px;font-weight:normal;font-style:normal;color:#000;">2.042</div>
<div class="t" style="right:172.81px;top:518.12px;font-size:11px;line-height:11px;font-weight:normal;font-style:normal;color:#000;">2.457</div>
<div class="t" style="right:119.44px;top:518.12px;font-size:11px;line-height:11px;font-weight:normal;font-style:normal;color:#000;">2.750</div>
<div class="t" style="right:66.07px;top:518.12px;font-size:11px;line-height:11px;font-weight:normal;font-style:normal;color:#000;">3.385</div>
<div class="t" style="right:12.70px;top:518.12px;font-size:11px;line-height:11px;font-weight:normal;font-style:normal;color:#000;">3.646</div>
<div class="t" style="right:599.80px;top:532.79px;font-size:11px;line-height:11px;font-weight:normal;font-style:normal;color:#000;">40</div>
<div class="t" style="right:546.40px;top:532.79px;font-size:11px;line-height:11px;font-weight:normal;font-style:normal;color:#000;">0.000</div>
<div class="t" style="right:493.03px;top:532.79px;font-size:11px;line-height:11px;font-weight:normal;font-style:normal;color:#000;">0.681</div>
<div class="t" style="right:439.66px;top:532.79px;font-size:11px;line-height:11px;font-weight:normal;font-style:normal;color:#000;">0.851</div>
<div class="t" style="right:386.29px;top:532.79px;font-size:11px;line-height:11px;font-weight:normal;font-style:normal;color:#000;">1.050</div>
<div class="t" style="right:332.92px;top:532.79px;font-size:11px;line-height:11px;font-weight:normal;font-style:normal;color:#000;">1.303</div>
<div class="t" style="right:279.55px;top:532.79px;font-size:11px;line-height:11px;font-weight:normal;font-style:normal;color:#000;">1.684</div>
<div class="t" style="right:226.18px;top:532.79px;font-size:11px;line-height:11px;font-weight:normal;font-style:normal;color:#000;">2.021</div>
<div class="t" style="right:172.81px;top:532.79px;font-size:11px;line-height:11px;font-weight:normal;font-style:normal;color:#000;">2.423</div>
<div class="t" style="right:119.44px;top:532.79px;font-size:11px;line-height:11px;font-weight:normal;font-style:normal;color:#000;">2.704</div>
<div class="t" style="right:66.07px;top:532.79px;font-size:11px;line-height:11px;font-weight:normal;font-style:normal;color:#000;">3.307</div>
<div class="t" style="right:12.70px;top:532.79px;font-size:11px;line-height:11px;font-weight:normal;font-style:normal;color:#000;">3.551</div>
<div class="t" style="right:599.80px;top:547.01px;font-size:11px;line-height:11px;font-weight:normal;font-style:normal;color:#000;">60</div>
<div class="t" style="right:546.40px;top:547.01px;font-size:11px;line-height:11px;font-weight:normal;font-style:normal;color:#000;">0.000</div>
<div class="t" style="right:493.03px;top:547.01px;font-size:11px;line-height:11px;font-weight:normal;font-style:normal;color:#000;">0.679</div>
<div class="t" style="right:439.66px;top:547.01px;font-size:11px;line-height:11px;font-weight:normal;font-style:normal;color:#000;">0.848</div>
<div class="t" style="right:386.29px;top:547.01px;font-size:11px;line-height:11px;font-weight:normal;font-style:normal;color:#000;">1.045</div>
<div class="t" style="right:332.92px;top:547.01px;font-size:11px;line-height:11px;font-weight:normal;font-style:normal;color:#000;">1.296</div>
<div class="t" style="right:279.55px;top:547.01px;font-size:11px;line-height:11px;font-weight:normal;font-style:normal;color:#000;">1.671</div>
<div class="t" style="right:226.18px;top:547.01px;font-size:11px;line-height:11px;font-weight:normal;font-style:normal;color:#000;">2.000</div>
<div class="t" style="right:172.81px;top:547.01px;font-size:11px;line-height:11px;font-weight:normal;font-style:normal;color:#000;">2.390</div>
<div class="t" style="right:119.44px;top:547.01px;font-size:11px;line-height:11px;font-weight:normal;font-style:normal;color:#000;">2.660</div>
<div class="t" style="right:66.07px;top:547.01px;font-size:11px;line-height:11px;font-weight:normal;font-style:normal;color:#000;">3.232</div>
<div class="t" style="right:12.70px;top:547.01px;font-size:11px;line-height:11px;font-weight:normal;font-style:normal;color:#000;">3.460</div>
<div class="t" style="right:599.80px;top:561.23px;font-size:11px;line-height:11px;font-weight:normal;font-style:normal;color:#000;">80</div>
<div class="t" style="right:546.40px;top:561.23px;font-size:11px;line-height:11px;font-weight:normal;font-style:normal;color:#000;">0.000</div>
<div class="t" style="right:493.03px;top:561.23px;font-size:11px;line-height:11px;font-weight:normal;font-style:normal;color:#000;">0.678</div>
<div class="t" style="right:439.66px;top:561.23px;font-size:11px;line-height:11px;font-weight:normal;font-style:normal;color:#000;">0.846</div>
<div class="t" style="right:386.29px;top:561.23px;font-size:11px;line-height:11px;font-weight:normal;font-style:normal;color:#000;">1.043</div>
<div class="t" style="right:332.92px;top:561.23px;font-size:11px;line-height:11px;font-weight:normal;font-style:normal;color:#000;">1.292</div>
<div class="t" style="right:279.55px;top:561.23px;font-size:11px;line-height:11px;font-weight:normal;font-style:normal;color:#000;">1.664</div>
<div class="t" style="right:226.18px;top:561.23px;font-size:11px;line-height:11px;font-weight:normal;font-style:normal;color:#000;">1.990</div>
<div class="t" style="right:172.81px;top:561.23px;font-size:11px;line-height:11px;font-weight:normal;font-style:normal;color:#000;">2.374</div>
<div class="t" style="right:119.44px;top:561.23px;font-size:11px;line-height:11px;font-weight:normal;font-style:normal;color:#000;">2.639</div>
<div class="t" style="right:66.07px;top:561.23px;font-size:11px;line-height:11px;font-weight:normal;font-style:normal;color:#000;">3.195</div>
<div class="t" style="right:12.70px;top:561.23px;font-size:11px;line-height:11px;font-weight:normal;font-style:normal;color:#000;">3.416</div>
<div class="t" style="right:599.80px;top:575.45px;font-size:11px;line-height:11px;font-weight:normal;font-style:normal;color:#000;">100</div>
<div class="t" style="right:546.40px;top:575.45px;font-size:11px;line-height:11px;font-weight:normal;font-style:normal;color:#000;">0.000</div>
<div class="t" style="right:493.03px;top:575.45px;font-size:11px;line-height:11px;font-weight:normal;font-style:normal;color:#000;">0.677</div>
<div class="t" style="right:439.66px;top:575.45px;font-size:11px;line-height:11px;font-weight:normal;font-style:normal;color:#000;">0.845</div>
<div class="t" style="right:386.29px;top:575.45px;font-size:11px;line-height:11px;font-weight:normal;font-style:normal;color:#000;">1.042</div>
<div class="t" style="right:332.92px;top:575.45px;font-size:11px;line-height:11px;font-weight:normal;font-style:normal;color:#000;">1.290</div>
<div class="t" style="right:279.55px;top:575.45px;font-size:11px;line-height:11px;font-weight:normal;font-style:normal;color:#000;">1.660</div>
<div class="t" style="right:226.18px;top:575.45px;font-size:11px;line-height:11px;font-weight:normal;font-style:normal;color:#000;">1.984</div>
<div class="t" style="right:172.81px;top:575.45px;font-size:11px;line-height:11px;font-weight:normal;font-style:normal;color:#000;">2.364</div>
<div class="t" style="right:119.44px;top:575.45px;font-size:11px;line-height:11px;font-weight:normal;font-style:normal;color:#000;">2.626</div>
<div class="t" style="right:66.07px;top:575.45px;font-size:11px;line-height:11px;font-weight:normal;font-style:normal;color:#000;">3.174</div>
<div class="t" style="right:12.70px;top:575.45px;font-size:11px;line-height:11px;font-weight:normal;font-style:normal;color:#000;">3.390</div>
<div class="t" style="right:599.80px;top:589.67px;font-size:11px;line-height:11px;font-weight:normal;font-style:normal;color:#000;">1000</div>
<div class="t" style="right:546.40px;top:589.67px;font-size:11px;line-height:11px;font-weight:normal;font-style:normal;color:#000;">0.000</div>
<div class="t" style="right:493.03px;top:589.67px;font-size:11px;line-height:11px;font-weight:normal;font-style:normal;color:#000;">0.675</div>
<div class="t" style="right:439.66px;top:589.67px;font-size:11px;line-height:11px;font-weight:normal;font-style:normal;color:#000;">0.842</div>
<div class="t" style="right:386.29px;top:589.67px;font-size:11px;line-height:11px;font-weight:normal;font-style:normal;color:#000;">1.037</div>
<div class="t" style="right:332.92px;top:589.67px;font-size:11px;line-height:11px;font-weight:normal;font-style:normal;color:#000;">1.282</div>
<div class="t" style="right:279.55px;top:589.67px;font-size:11px;line-height:11px;font-weight:normal;font-style:normal;color:#000;">1.646</div>
<div class="t" style="right:226.18px;top:589.67px;font-size:11px;line-height:11px;font-weight:normal;font-style:normal;color:#000;">1.962</div>
<div class="t" style="right:172.81px;top:589.67px;font-size:11px;line-height:11px;font-weight:normal;font-style:normal;color:#000;">2.330</div>
<div class="t" style="right:119.44px;top:589.67px;font-size:11px;line-height:11px;font-weight:normal;font-style:normal;color:#000;">2.581</div>
<div class="t" style="right:66.07px;top:589.67px;font-size:11px;line-height:11px;font-weight:normal;font-style:normal;color:#000;">3.098</div>
<div class="t" style="right:12.70px;top:589.67px;font-size:11px;line-height:11px;font-weight:normal;font-style:normal;color:#000;">3.300</div>
<div class="t" style="right:603.20px;top:605.26px;font-size:16px;line-height:16px;font-weight:bold;font-style:italic;color:#000;">z</div>
<div class="t" style="right:546.40px;top:608.89px;font-size:11px;line-height:11px;font-weight:normal;font-style:normal;color:#000;">0.000</div>
<div class="t" style="right:493.03px;top:608.89px;font-size:11px;line-height:11px;font-weight:normal;font-style:normal;color:#000;">0.674</div>
<div class="t" style="right:439.66px;top:608.89px;font-size:11px;line-height:11px;font-weight:normal;font-style:normal;color:#000;">0.842</div>
<div class="t" style="right:386.29px;top:608.89px;font-size:11px;line-height:11px;font-weight:normal;font-style:normal;color:#000;">1.036</div>
<div class="t" style="right:332.92px;top:608.89px;font-size:11px;line-height:11px;font-weight:normal;font-style:normal;color:#000;">1.282</div>
<div class="t" style="right:279.55px;top:608.89px;font-size:11px;line-height:11px;font-weight:normal;font-style:normal;color:#000;">1.645</div>
<div class="t" style="right:226.18px;top:608.89px;font-size:11px;line-height:11px;font-weight:normal;font-style:normal;color:#000;">1.960</div>
<div class="t" style="right:172.81px;top:608.89px;font-size:11px;line-height:11px;font-weight:normal;font-style:normal;color:#000;">2.326</div>
<div class="t" style="right:119.44px;top:608.89px;font-size:11px;line-height:11px;font-weight:normal;font-style:normal;color:#000;">2.576</div>
<div class="t" style="right:66.07px;top:608.89px;font-size:11px;line-height:11px;font-weight:normal;font-style:normal;color:#000;">3.090</div>
<div class="t" style="right:12.70px;top:608.89px;font-size:11px;line-height:11px;font-weight:normal;font-style:normal;color:#000;">3.291</div>
<div class="t" style="right:547.40px;top:624.86px;font-size:13.4px;line-height:13.4px;font-weight:normal;font-style:normal;color:#000;">0%</div>
<div class="t" style="right:494.03px;top:624.86px;font-size:13.4px;line-height:13.4px;font-weight:normal;font-style:normal;color:#000;">50%</div>
<div class="t" style="right:440.66px;top:624.86px;font-size:13.4px;line-height:13.4px;font-weight:normal;font-style:normal;color:#000;">60%</div>
<div class="t" style="right:387.29px;top:624.86px;font-size:13.4px;line-height:13.4px;font-weight:normal;font-style:normal;color:#000;">70%</div>
<div class="t" style="right:333.92px;top:624.86px;font-size:13.4px;line-height:13.4px;font-weight:normal;font-style:normal;color:#000;">80%</div>
<div class="t" style="right:280.55px;top:624.86px;font-size:13.4px;line-height:13.4px;font-weight:normal;font-style:normal;color:#000;">90%</div>
<div class="t" style="right:227.18px;top:624.86px;font-size:13.4px;line-height:13.4px;font-weight:normal;font-style:normal;color:#000;">95%</div>
<div class="t" style="right:173.81px;top:624.86px;font-size:13.4px;line-height:13.4px;font-weight:normal;font-style:normal;color:#000;">98%</div>
<div class="t" style="right:120.44px;top:624.86px;font-size:13.4px;line-height:13.4px;font-weight:normal;font-style:normal;color:#000;">99%</div>
<div class="t" style="right:67.07px;top:624.86px;font-size:13.4px;line-height:13.4px;font-weight:normal;font-style:normal;color:#000;">99.8%</div>
<div class="t" style="right:13.70px;top:624.86px;font-size:13.4px;line-height:13.4px;font-weight:normal;font-style:normal;color:#000;">99.9%</div>
<div style="position:absolute;left:595px;top:642px;width:77px;height:12px;font-family:'Liberation Serif',serif;font-weight:bold;font-size:11.5px;line-height:12px;color:#ececec;white-space:nowrap;transform-origin:0 0;transform:scaleX(0.97)">WWW.CXY.CN</div>
<div class="t" style="left:90px;width:587px;text-align:center;top:642.17px;font-size:13.5px;line-height:13.5px;font-weight:bold">Confidence Level</div>
</body></html>
